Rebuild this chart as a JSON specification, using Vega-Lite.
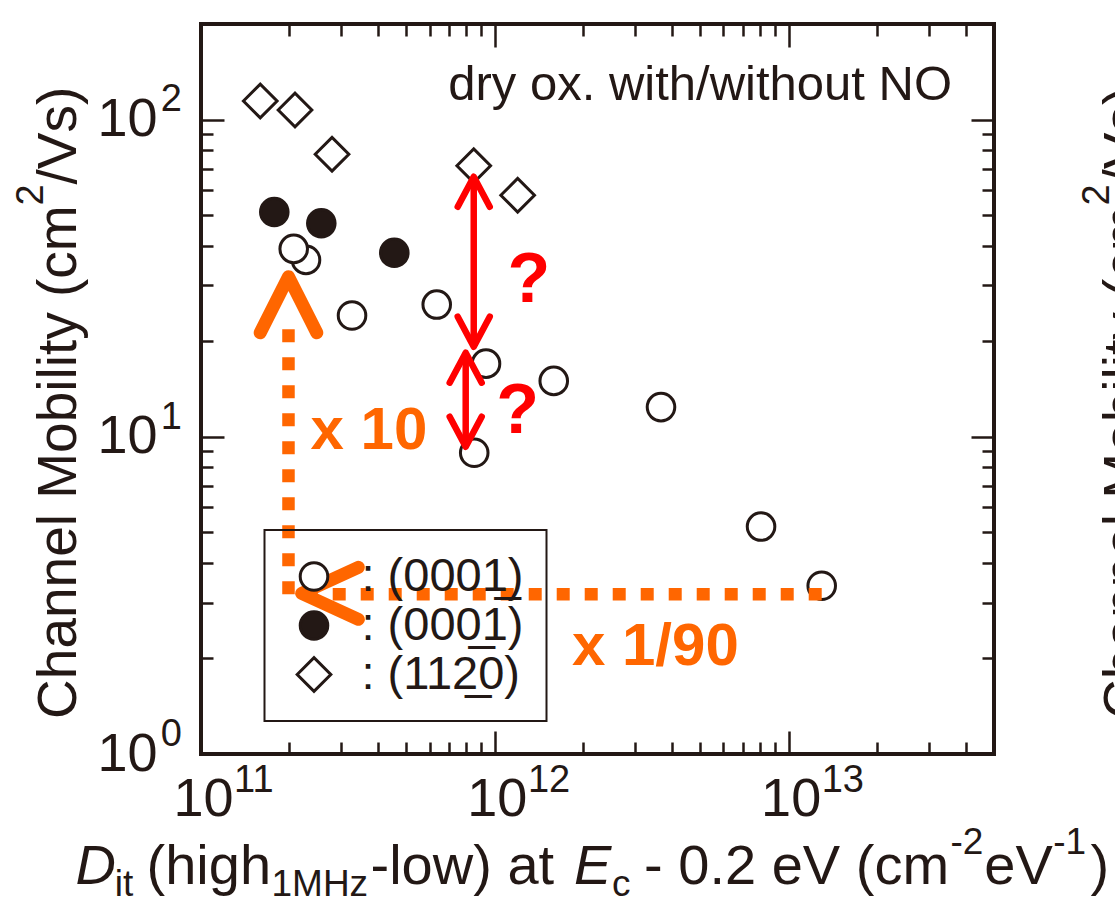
{
  "$schema": "https://vega.github.io/schema/vega-lite/v6.json",
  "width": 793,
  "height": 730,
  "autosize": "none",
  "padding": {"left": 201, "top": 24, "right": 121, "bottom": 155},
  "background": "white",
  "config": {
    "view": {"stroke": "#231815", "strokeWidth": 4},
    "font": "Liberation Sans",
    "axis": {
      "domain": false, "grid": false, "tickColor": "#231815", "tickWidth": 2.5,
      "labelColor": "#231815", "titleColor": "#231815", "labelFont": "Liberation Sans",
      "titleFont": "Liberation Sans", "titleFontWeight": "normal", "labelFlush": false,
      "labelOverlap": false, "titlePadding": 0, "titleAlign": "left", "titleBaseline": "alphabetic"
    }
  },
  "resolve": {"axis": {"x": "independent", "y": "independent"}},
  "layer": [
    {
      "data": {"values": [
        {"x": 2.277e11, "y": 36.1, "face": "(0001\u0332)"},
        {"x": 2.068e11, "y": 39.1, "face": "(0001\u0332)"},
        {"x": 3.266e11, "y": 24.1, "face": "(0001\u0332)"},
        {"x": 6.343e11, "y": 26.1, "face": "(0001\u0332)"},
        {"x": 9.333e11, "y": 17.0, "face": "(0001\u0332)"},
        {"x": 1.587e12, "y": 15.0, "face": "(0001\u0332)"},
        {"x": 8.51e11, "y": 8.9, "face": "(0001\u0332)"},
        {"x": 3.678e12, "y": 12.4, "face": "(0001\u0332)"},
        {"x": 8.056e12, "y": 5.21, "face": "(0001\u0332)"},
        {"x": 1.296e13, "y": 3.39, "face": "(0001\u0332)"},
        {"x": 1.776e11, "y": 51.1, "face": "(000\u03321)"},
        {"x": 2.567e11, "y": 47.1, "face": "(000\u03321)"},
        {"x": 4.549e11, "y": 38.0, "face": "(000\u03321)"},
        {"x": 1.591e11, "y": 114.4, "face": "(112\u03320)"},
        {"x": 2.089e11, "y": 107.1, "face": "(112\u03320)"},
        {"x": 2.792e11, "y": 77.7, "face": "(112\u03320)"},
        {"x": 8.477e11, "y": 71.5, "face": "(112\u03320)"},
        {"x": 1.196e12, "y": 57.7, "face": "(112\u03320)"}
      ]},
      "mark": {"type": "point", "filled": true, "stroke": "#231815", "strokeWidth": 3, "size": 760, "opacity": 1},
      "encoding": {
        "x": {"field": "x", "type": "quantitative", "scale": {"type": "log", "domain": [1e11, 5e13], "nice": false},
          "axis": {"orient": "bottom", "values": [1e11, 1e12, 1e13], "tickSize": -23, "labelExpr": "'10'", "labelFontSize": 54,
            "labelAlign": "center", "labelBaseline": "alphabetic", "labelPadding": 84, "labelOffset": 2,
            "title": "D", "titleX": -126, "titleY": 129.3, "titleAngle": 0, "titleFontSize": 56, "titleFontStyle": "italic"}},
        "y": {"field": "y", "type": "quantitative", "scale": {"type": "log", "domain": [1, 200], "nice": false},
          "axis": {"orient": "left", "values": [1, 10, 100], "tickSize": -23, "labelExpr": "'10'", "labelFontSize": 54,
            "labelAlign": "right", "labelBaseline": "middle", "labelPadding": 67,
            "title": "Channel Mobility (cm", "titleX": -126, "titleY": 694.4, "titleAngle": -90, "titleFontSize": 55}},
        "shape": {"field": "face", "type": "nominal",
          "scale": {"domain": ["(0001\u0332)", "(000\u03321)", "(112\u03320)"], "range": ["circle", "circle", "M-1.22,0L0,-1.22L1.22,0L0,1.22Z"]},
          "legend": {"title": null, "labelExpr": "': ' + datum.label + '\u00a0\u00a0'", "orient": "none", "legendX": 63.5, "legendY": 506, "padding": 23,
            "strokeColor": "#231815", "labelFont": "Liberation Sans", "labelFontSize": 47, "labelColor": "#231815",
            "labelOffset": 24, "labelLimit": 400, "rowPadding": 1, "symbolOffset": 3, "symbolStrokeWidth": 3, "symbolStrokeColor": "#231815", "symbolSize": 760, "symbolOpacity": 1,
            "encode": {
              "symbols": {"update": {"stroke": {"value": "#231815"}, "strokeWidth": {"value": 3}, "size": {"value": 760},
                "fill": {"signal": "datum.value === '(000\u03321)' ? '#231815' : 'transparent'"}}},
              "legend": {"update": {"strokeWidth": {"value": 2}}}
            }}},
        "fill": {"field": "face", "type": "nominal",
          "scale": {"domain": ["(0001\u0332)", "(000\u03321)", "(112\u03320)"], "range": ["white", "#231815", "white"]},
          "legend": {"title": null, "labelExpr": "': ' + datum.label + '\u00a0\u00a0'", "orient": "none", "legendX": 63.5, "legendY": 506, "padding": 23,
            "strokeColor": "#231815", "labelFont": "Liberation Sans", "labelFontSize": 47, "labelColor": "#231815",
            "labelOffset": 24, "labelLimit": 400, "rowPadding": 1, "symbolOffset": 3, "symbolStrokeWidth": 3, "symbolStrokeColor": "#231815", "symbolSize": 760, "symbolOpacity": 1,
            "encode": {
              "symbols": {"update": {"stroke": {"value": "#231815"}, "strokeWidth": {"value": 3}, "size": {"value": 760},
                "fill": {"signal": "datum.value === '(000\u03321)' ? '#231815' : 'transparent'"}}},
              "legend": {"update": {"strokeWidth": {"value": 2}}}
            }}}
      }
    },
    {
      "data": {"values": [{"x": 3.6e13, "y": 115, "t": "dry ox. with/without NO"}]},
      "mark": {"type": "text", "align": "right", "baseline": "alphabetic", "fontSize": 49, "color": "#231815", "font": "Liberation Sans"},
      "encoding": {
        "x": {"field": "x", "type": "quantitative", "scale": {"type": "log", "domain": [1e11, 5e13], "nice": false},
          "axis": {"orient": "bottom", "values": [2e11, 3e11, 4e11, 5e11, 6e11, 7e11, 8e11, 9e11, 2e12, 3e12, 4e12, 5e12, 6e12, 7e12, 8e12, 9e12, 2e13, 3e13, 4e13],
            "tickSize": -12, "labels": false, "title": "it", "titleX": -86.7, "titleY": 141, "titleAngle": 0, "titleFontSize": 37}},
        "y": {"field": "y", "type": "quantitative", "scale": {"type": "log", "domain": [1, 200], "nice": false},
          "axis": {"orient": "left", "values": [2, 3, 4, 5, 6, 7, 8, 9, 20, 30, 40, 50, 60, 70, 80, 90],
            "tickSize": -12, "labels": false, "title": "2", "titleX": -159, "titleY": 181, "titleAngle": -90, "titleFontSize": 38}},
        "text": {"field": "t"}
      }
    },
    {
      "data": {"values": [{"x": 8.477e11, "y": 66.0, "y2": 19.22}, {"x": 7.96e11, "y": 18.41, "y2": 9.3}]},
      "mark": {"type": "rule", "color": "#FF0000", "strokeWidth": 6.5},
      "encoding": {
        "x": {"field": "x", "type": "quantitative", "scale": {"type": "log", "domain": [1e11, 5e13], "nice": false},
          "axis": {"orient": "bottom", "values": [1e11, 1e12, 1e13], "ticks": false, "labelExpr": "format(round(log(datum.value)/LN10),'d')",
            "labelFontSize": 38, "labelAlign": "left", "labelBaseline": "alphabetic", "labelPadding": 37.7, "labelOffset": 32.6,
            "title": "(high", "titleX": -55, "titleY": 129.3, "titleAngle": 0, "titleFontSize": 56}},
        "y": {"field": "y", "type": "quantitative", "scale": {"type": "log", "domain": [1, 200], "nice": false},
          "axis": {"orient": "left", "values": [1, 10, 100], "ticks": false, "labelExpr": "format(round(log(datum.value)/LN10),'d')",
            "labelFontSize": 38, "labelAlign": "left", "labelBaseline": "alphabetic", "labelPadding": 40.7, "labelOffset": -8.6,
            "title": "/Vs)", "titleX": -126, "titleY": 160, "titleAngle": -90, "titleFontSize": 55}},
        "y2": {"field": "y2"}
      }
    },
    {
      "data": {"values": [{"x": 8.477e11, "y": 66.0}, {"x": 7.96e11, "y": 18.41}]},
      "mark": {"type": "point", "shape": "M-1,1.875L0,0L1,1.875", "size": 1024, "filled": false, "color": "#FF0000", "strokeWidth": 6.5, "opacity": 1, "strokeCap": "round", "strokeJoin": "round"},
      "encoding": {
        "x": {"field": "x", "type": "quantitative", "scale": {"type": "log", "domain": [1e11, 5e13], "nice": false},
          "axis": {"orient": "top", "values": [1e11, 1e12, 1e13], "tickSize": -23, "labels": false,
            "title": "1MHz", "titleX": 70, "titleY": 871, "titleAngle": 0, "titleFontSize": 37}},
        "y": {"field": "y", "type": "quantitative", "scale": {"type": "log", "domain": [1, 200], "nice": false},
          "axis": {"orient": "right", "values": [1, 10, 100], "tickSize": -23, "labels": false,
            "title": "Channel Mobility (cm", "titleX": 147, "titleY": 694.4, "titleAngle": -90, "titleFontSize": 55}}
      }
    },
    {
      "data": {"values": [{"x": 8.477e11, "y": 19.22}, {"x": 7.96e11, "y": 9.3}]},
      "mark": {"type": "point", "shape": "M-1,-1.875L0,0L1,-1.875", "size": 1024, "filled": false, "color": "#FF0000", "strokeWidth": 6.5, "opacity": 1, "strokeCap": "round", "strokeJoin": "round"},
      "encoding": {
        "x": {"field": "x", "type": "quantitative", "scale": {"type": "log", "domain": [1e11, 5e13], "nice": false},
          "axis": {"orient": "top", "values": [2e11, 3e11, 4e11, 5e11, 6e11, 7e11, 8e11, 9e11, 2e12, 3e12, 4e12, 5e12, 6e12, 7e12, 8e12, 9e12, 2e13, 3e13, 4e13],
            "tickSize": -12, "labels": false, "title": "-low) at", "titleX": 169, "titleY": 859.3, "titleAngle": 0, "titleFontSize": 56}},
        "y": {"field": "y", "type": "quantitative", "scale": {"type": "log", "domain": [1, 200], "nice": false},
          "axis": {"orient": "right", "values": [2, 3, 4, 5, 6, 7, 8, 9, 20, 30, 40, 50, 60, 70, 80, 90],
            "tickSize": -12, "labels": false, "title": "2", "titleX": 114, "titleY": 181, "titleAngle": -90, "titleFontSize": 38}}
      }
    },
    {
      "data": {"values": [{"x": 1.307e12, "y": 26.66, "t": "?"}, {"x": 1.195e12, "y": 10.25, "t": "?"}]},
      "mark": {"type": "text", "align": "center", "baseline": "alphabetic", "fontSize": 70, "fontWeight": "bold", "color": "#FF0000", "font": "Liberation Sans"},
      "encoding": {
        "x": {"field": "x", "type": "quantitative", "scale": {"type": "log", "domain": [1e11, 5e13], "nice": false},
          "axis": {"orient": "bottom", "ticks": false, "labels": false, "title": "E", "titleX": 372.5, "titleY": 129.3, "titleAngle": 0, "titleFontSize": 56, "titleFontStyle": "italic"}},
        "y": {"field": "y", "type": "quantitative", "scale": {"type": "log", "domain": [1, 200], "nice": false},
          "axis": {"orient": "right", "ticks": false, "labels": false, "title": "/Vs)", "titleX": 147, "titleY": 160, "titleAngle": -90, "titleFontSize": 55}},
        "text": {"field": "t"}
      }
    },
    {
      "data": {"values": [{"x": 1.985e11, "x2": 1.985e11, "y": 3.19, "y2": 21.94}, {"x": 1.296e13, "x2": 2.241e11, "y": 3.19, "y2": 3.19}]},
      "mark": {"type": "rule", "color": "#FF6600", "strokeWidth": 12.5, "strokeDash": [13, 15], "strokeCap": "butt"},
      "encoding": {
        "x": {"field": "x", "type": "quantitative", "scale": {"type": "log", "domain": [1e11, 5e13], "nice": false},
          "axis": {"orient": "bottom", "ticks": false, "labels": false, "title": "c", "titleX": 410.5, "titleY": 141, "titleAngle": 0, "titleFontSize": 37}},
        "x2": {"field": "x2"},
        "y": {"field": "y", "type": "quantitative", "scale": {"type": "log", "domain": [1, 200], "nice": false},
          "axis": {"orient": "left", "ticks": false, "labels": false, "title": ")", "titleX": 889, "titleY": 859.3, "titleAngle": 0, "titleFontSize": 56}},
        "y2": {"field": "y2"}
      }
    },
    {
      "data": {"values": [{"x": 1.985e11, "y": 31.96}]},
      "mark": {"type": "point", "shape": "M-1,1.98L0,0L1,1.98", "size": 3204, "filled": false, "color": "#FF6600", "strokeWidth": 13, "opacity": 1, "strokeCap": "round", "strokeJoin": "round"},
      "encoding": {
        "x": {"field": "x", "type": "quantitative", "scale": {"type": "log", "domain": [1e11, 5e13], "nice": false},
          "axis": {"orient": "bottom", "ticks": false, "labels": false, "title": "- 0.2 eV (cm", "titleX": 442.6, "titleY": 129.3, "titleAngle": 0, "titleFontSize": 56}},
        "y": {"field": "y", "type": "quantitative", "scale": {"type": "log", "domain": [1, 200], "nice": false}, "axis": null}
      }
    },
    {
      "data": {"values": [{"x": 2.201e11, "y": 3.21}]},
      "mark": {"type": "point", "shape": "M2.18,-1L0,0L2.18,1", "size": 2704, "filled": false, "color": "#FF6600", "strokeWidth": 13, "opacity": 1, "strokeCap": "round", "strokeJoin": "round"},
      "encoding": {
        "x": {"field": "x", "type": "quantitative", "scale": {"type": "log", "domain": [1e11, 5e13], "nice": false},
          "axis": {"orient": "bottom", "ticks": false, "labels": false, "title": "-2", "titleX": 749, "titleY": 99.3, "titleAngle": 0, "titleFontSize": 37}},
        "y": {"field": "y", "type": "quantitative", "scale": {"type": "log", "domain": [1, 200], "nice": false}, "axis": null}
      }
    },
    {
      "data": {"values": [{"x": 2.36e11, "y": 9.13, "t": "x 10"}]},
      "mark": {"type": "text", "align": "left", "baseline": "alphabetic", "fontSize": 60, "fontWeight": "bold", "color": "#FF6600", "font": "Liberation Sans"},
      "encoding": {
        "x": {"field": "x", "type": "quantitative", "scale": {"type": "log", "domain": [1e11, 5e13], "nice": false},
          "axis": {"orient": "bottom", "ticks": false, "labels": false, "title": "eV", "titleX": 782.8, "titleY": 129.3, "titleAngle": 0, "titleFontSize": 56}},
        "y": {"field": "y", "type": "quantitative", "scale": {"type": "log", "domain": [1, 200], "nice": false}, "axis": null},
        "text": {"field": "t"}
      }
    },
    {
      "data": {"values": [{"x": 1.83e12, "y": 1.908, "t": "x 1/90"}]},
      "mark": {"type": "text", "align": "left", "baseline": "alphabetic", "fontSize": 60, "fontWeight": "bold", "color": "#FF6600", "font": "Liberation Sans"},
      "encoding": {
        "x": {"field": "x", "type": "quantitative", "scale": {"type": "log", "domain": [1e11, 5e13], "nice": false},
          "axis": {"orient": "bottom", "ticks": false, "labels": false, "title": "-1", "titleX": 851.7, "titleY": 99.3, "titleAngle": 0, "titleFontSize": 37}},
        "y": {"field": "y", "type": "quantitative", "scale": {"type": "log", "domain": [1, 200], "nice": false}, "axis": null},
        "text": {"field": "t"}
      }
    }
  ]
}
